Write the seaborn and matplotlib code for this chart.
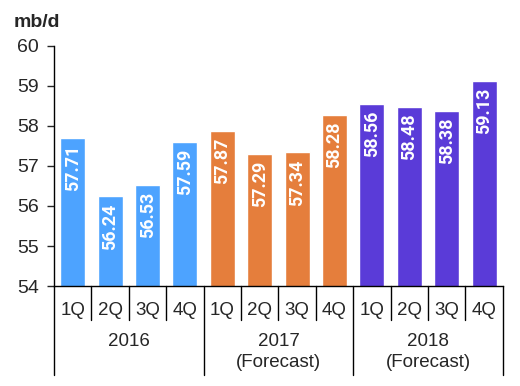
import numpy as np
import pandas as pd
import matplotlib
matplotlib.use("Agg")
import matplotlib.pyplot as plt
import seaborn as sns

years = ["2016", "2017", "2018"]
year_notes = ["", "(Forecast)", "(Forecast)"]
quarters = ["1Q", "2Q", "3Q", "4Q"]
values_2016 = [57.71, 56.24, 56.53, 57.59]
values_2017 = [57.87, 57.29, 57.34, 58.28]
values_2018 = [58.56, 58.48, 58.38, 59.13]
colors = {"2016": "#4DA3FF", "2017": "#E57E3C", "2018": "#5A3BD8"}

rows = []
for yr, vals in zip(years, [values_2016, values_2017, values_2018]):
    for q, v in zip(quarters, vals):
        rows.append({"slot": f"{yr} {q}", "year": yr, "quarter": q, "value": v})
df = pd.DataFrame(rows)

sns.set_style("white")
plt.rcParams["font.family"] = ["Liberation Sans", "DejaVu Sans"]

fig = plt.figure(figsize=(5.2, 3.86), dpi=100)
ax = fig.add_axes([0.104, 0.259, 0.863, 0.622])

sns.barplot(data=df, x="slot", y="value", hue="year", palette=colors,
            dodge=False, width=0.67, legend=False, ax=ax, saturation=1)

ax.set_ylim(54, 60)
ax.set_xlim(-0.5, len(df) - 0.5)
ax.set_yticks(range(54, 61))
ax.tick_params(axis="y", labelsize=14, length=5, width=1, direction="out", left=True, pad=6)
ax.set_xticks([])
ax.set_xlabel("")
ax.set_ylabel("")
for s in ["top", "right"]:
    ax.spines[s].set_visible(False)
for s in ["left", "bottom"]:
    ax.spines[s].set_color("black")
    ax.spines[s].set_linewidth(1)

# value labels inside bars
for i, v in enumerate(df["value"]):
    ax.text(i, v - 0.17, f"{v:.2f}", rotation=90, ha="center", va="top",
            color="white", fontsize=13, fontweight="bold", family="Roboto")

# category axis: quarter labels, separators, year labels
trans = ax.get_xaxis_transform()
for i, q in enumerate(df["quarter"]):
    ax.text(i, -0.1, q, ha="center", va="center", fontsize=13.5, transform=trans)
for i in range(len(df) + 1):
    x = i - 0.5
    bottom = -0.371 if i % 4 == 0 else -0.142
    ax.plot([x, x], [0, bottom], color="black", lw=1, transform=trans, clip_on=False)
for k, (yr, note) in enumerate(zip(years, year_notes)):
    cx = k * 4 + 1.5
    ax.text(cx, -0.233, yr, ha="center", va="center", fontsize=13.5, transform=trans)
    if note:
        ax.text(cx, -0.32, note, ha="center", va="center", fontsize=13.5, transform=trans)

fig.text(0.027, 0.943, "mb/d", fontsize=14, fontweight="bold", ha="left", va="center")

fig.savefig("out.png", dpi=100)
